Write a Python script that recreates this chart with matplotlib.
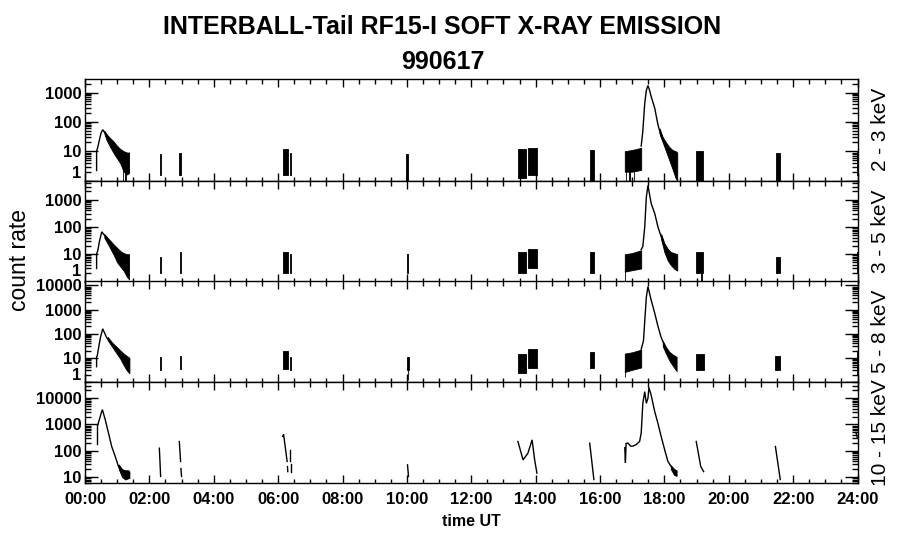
import matplotlib
matplotlib.use("Agg")
import matplotlib.pyplot as plt
import numpy as np
from matplotlib.ticker import FixedLocator, MultipleLocator, NullFormatter, LogLocator

plt.rcParams['font.family'] = ['Liberation Sans', 'DejaVu Sans']

# ---------------- texts / axes ----------------
title_line1 = "INTERBALL-Tail RF15-I SOFT X-RAY EMISSION"
title_line2 = "990617"
y_title = "count rate"
x_title = "time UT"
band_labels = ["2 - 3 keV", "3 - 5 keV", "5 - 8 keV", "10 - 15 keV"]
y_limits = [(1, 2900), (1, 5000), (1, 14500), (5.9, 41600)]
y_major = [[1, 10, 100, 1000], [1, 10, 100, 1000],
           [1, 10, 100, 1000, 10000], [10, 100, 1000, 10000]]
x_major_hours = list(range(0, 25, 2))
x_tick_labels = ["%02d:00" % h for h in x_major_hours]

# ---------------- panel 1 : 2 - 3 keV ----------------
p1_flare1_t = [0.36, 0.36, 0.40, 0.45, 0.50, 0.55, 0.60, 0.67]
p1_flare1_v = [2.2, 10, 14, 25, 42, 54, 45, 37]
p1_noise1_t = [0.60, 0.67, 0.78, 0.88, 0.98, 1.09, 1.20, 1.30, 1.37]
p1_noise1_hi = [50, 38, 28, 22, 16, 12, 10, 9, 9]
p1_noise1_lo = [40, 24, 14, 9, 6, 4, 2.0, 1.6, 1.8]
p1_pre_t = [16.77, 17.00, 17.28]
p1_pre_hi = [10, 11, 13]
p1_pre_lo = [2.0, 2.0, 2.3]
p1_flare2_t = [17.28, 17.33, 17.39, 17.44, 17.49, 17.54, 17.59, 17.70, 17.80, 17.90, 18.01, 18.11]
p1_flare2_v = [15, 48, 437, 1200, 1730, 1200, 733, 296, 80, 32, 17, 10]
p1_noise2_t = [17.85, 17.95, 18.05, 18.15, 18.25, 18.35, 18.40]
p1_noise2_hi = [60, 30, 20, 14, 11, 10, 9]
p1_noise2_lo = [40, 20, 10, 5, 2.5, 1.2, 1.0]
p1_bursts = [(1.17, 1.19, 0.9, 3), (1.24, 1.26, 0.9, 3),
             (2.32, 2.35, 1.5, 8), (2.93, 2.97, 1.5, 9),
             (6.14, 6.30, 1.5, 12), (6.37, 6.39, 1.5, 9),
             (9.98, 10.05, 1.0, 8), (13.45, 13.70, 1.2, 11.5),
             (13.76, 14.04, 1.5, 13), (15.68, 15.80, 1.0, 11),
             (16.80, 16.82, 0.9, 3), (16.90, 16.92, 0.9, 3), (17.05, 17.07, 0.9, 3),
             (18.99, 19.20, 1.0, 10), (21.47, 21.60, 1.0, 9),
             (23.97, 24.00, 1.6, 10)]

# ---------------- panel 2 : 3 - 5 keV ----------------
p2_flare1_t = [0.36, 0.36, 0.40, 0.45, 0.52, 0.60, 0.70]
p2_flare1_v = [3, 10, 14, 30, 66, 50, 38]
p2_noise1_t = [0.60, 0.70, 0.80, 0.90, 1.00, 1.10, 1.20, 1.30, 1.37]
p2_noise1_hi = [55, 40, 30, 22, 17, 13, 11, 10, 10]
p2_noise1_lo = [40, 25, 15, 9, 5, 3.5, 2.5, 1.5, 1.2]
p2_pre_t = [16.77, 17.00, 17.28]
p2_pre_hi = [10, 11, 14]
p2_pre_lo = [2.3, 2.6, 3.0]
p2_flare2_t = [17.28, 17.33, 17.39, 17.44, 17.49, 17.59, 17.70, 17.80, 17.90, 18.01, 18.16, 18.37]
p2_flare2_v = [15, 19, 100, 1250, 3300, 720, 310, 100, 44, 19, 11, 8]
p2_noise2_t = [17.90, 18.00, 18.10, 18.20, 18.30, 18.40]
p2_noise2_hi = [55, 25, 16, 12, 11, 10]
p2_noise2_lo = [35, 12, 6, 4, 3, 2.5]
p2_bursts = [(2.32, 2.35, 2, 8), (2.94, 2.97, 2, 12),
             (6.14, 6.30, 2, 12), (6.37, 6.39, 2, 10),
             (10.00, 10.05, 2, 10), (13.45, 13.70, 2, 12),
             (13.76, 14.03, 3, 16), (15.68, 15.82, 2, 12),
             (16.77, 16.79, 1.0, 3),
             (18.99, 19.20, 2, 12), (19.15, 19.17, 1.0, 4),
             (21.47, 21.60, 2, 8), (23.97, 24.00, 2, 12)]

# ---------------- panel 3 : 5 - 8 keV ----------------
p3_flare1_t = [0.36, 0.36, 0.38, 0.42, 0.48, 0.55, 0.67, 0.83, 0.98, 1.13, 1.35]
p3_flare1_v = [4.3, 11, 12, 25, 70, 160, 70, 37, 23, 15, 9]
p3_noise1_t = [0.70, 0.85, 1.00, 1.10, 1.20, 1.30, 1.38]
p3_noise1_hi = [75, 42, 27, 20, 15, 12, 10]
p3_noise1_lo = [55, 28, 14, 9, 5, 3, 2.3]
p3_pre_t = [16.77, 17.00, 17.28]
p3_pre_hi = [15, 17, 22]
p3_pre_lo = [2.6, 3.2, 4.0]
p3_flare2_t = [17.28, 17.35, 17.40, 17.44, 17.49, 17.59, 17.70, 17.80, 17.90, 18.01, 18.16, 18.37]
p3_flare2_v = [23, 50, 520, 3300, 9000, 2450, 710, 205, 70, 32, 15, 9]
p3_noise2_t = [17.95, 18.05, 18.15, 18.25, 18.38]
p3_noise2_hi = [50, 28, 18, 14, 11]
p3_noise2_lo = [30, 15, 8, 5, 2.8]
p3_bursts = [(2.32, 2.35, 3.1, 11), (2.94, 2.97, 3.5, 12.5),
             (6.14, 6.30, 3.5, 20), (6.37, 6.39, 3, 11),
             (10.00, 10.06, 3, 11), (10.02, 10.03, 1.2, 3),
             (13.45, 13.70, 2.3, 15), (13.76, 14.03, 3.7, 23),
             (15.68, 15.82, 3.7, 18), (16.77, 16.79, 1.6, 4),
             (18.99, 19.22, 3, 15),
             (21.45, 21.60, 3, 12), (23.97, 24.00, 2, 18)]

# ---------------- panel 4 : 10 - 15 keV ----------------
p4_flare1_t = [0.40, 0.45, 0.50, 0.54, 0.63, 0.73, 0.83, 0.94, 1.04, 1.14, 1.25, 1.35]
p4_flare1_v = [1000, 1600, 2600, 3700, 1500, 470, 145, 60, 25, 14, 12, 12]
p4_start_t = [0.37, 0.37]
p4_start_v = [180, 950]
p4_noise1_t = [1.05, 1.15, 1.25, 1.35, 1.38]
p4_noise1_hi = [30, 20, 18, 18, 16]
p4_noise1_lo = [20, 10, 8, 9, 9]
p4_b1_t = [2.31, 2.35]
p4_b1_v = [125, 10.5]
p4_b2_t = [2.93, 2.97]
p4_b2_v = [225, 39]
p4_b3_t = [2.98, 3.00]
p4_b3_v = [21, 10.5]
p4_b4_t = [6.14, 6.17, 6.28]
p4_b4_v = [350, 420, 39]
p4_b5_t = [6.29, 6.30]
p4_b5_v = [25, 16]
p4_b6_t = [6.38, 6.38]
p4_b6_v = [110, 40]
p4_b7_t = [6.39, 6.39]
p4_b7_v = [30, 16]
p4_b8_t = [10.02, 10.05]
p4_b8_v = [29, 10.5]
p4_b9_t = [13.45, 13.61, 13.76, 13.89, 13.97, 14.04]
p4_b9_v = [225, 45, 80, 260, 45, 14]
p4_b10_t = [15.68, 15.81]
p4_b10_v = [195, 8]
p4_flare2_t = [16.77, 16.79, 16.81, 16.87, 16.95, 17.02, 17.12, 17.23, 17.28, 17.33, 17.39, 17.44,
               17.49, 17.52, 17.59, 17.70, 17.80, 17.90, 18.01, 18.11, 18.21, 18.37]
p4_flare2_v = [130, 35, 190, 195, 150, 150, 170, 225, 470, 6400, 17800, 6400,
               10000, 26000, 13000, 3100, 1100, 350, 108, 39, 25, 16]
p4_noise2_t = [18.20, 18.30, 18.38]
p4_noise2_hi = [28, 20, 18]
p4_noise2_lo = [20, 12, 11]
p4_b11_t = [18.99, 19.13, 19.22]
p4_b11_v = [225, 25, 16]
p4_b12_t = [21.45, 21.60]
p4_b12_v = [145, 8]
p4_b13_t = [23.95, 24.00]
p4_b13_v = [500, 300]

# ---------------- figure ----------------
W, H = 900, 548
fig = plt.figure(figsize=(W / 100, H / 100), dpi=100)
edges = [79, 180.5, 281.5, 382, 483]
x_left, x_right = 85, 857.5
one_offsets = [7, 10, 6, None]  # pixel shift of the bottom "1" label
tick_fs = 12

axes = []
for i in range(4):
    b = 1 - edges[i + 1] / H
    h = (edges[i + 1] - edges[i]) / H
    ax = fig.add_axes([x_left / W, b, (x_right - x_left) / W, h])
    axes.append(ax)


def line(ax, t, v):
    ax.plot(t, v, color='k', lw=1.0, solid_joinstyle='miter')


def band(ax, t, lo, hi):
    ax.fill_between(t, lo, hi, facecolor='k', edgecolor='k', lw=0.6)


def bursts(ax, items):
    for t0, t1, lo, hi in items:
        ax.fill_between([t0, t1], [lo, lo], [hi, hi], facecolor='k', edgecolor='k', lw=0.6)


a1, a2, a3, a4 = axes
line(a1, p1_flare1_t, p1_flare1_v); band(a1, p1_noise1_t, p1_noise1_lo, p1_noise1_hi)
band(a1, p1_pre_t, p1_pre_lo, p1_pre_hi)
line(a1, p1_flare2_t, p1_flare2_v); band(a1, p1_noise2_t, p1_noise2_lo, p1_noise2_hi)
bursts(a1, p1_bursts)

line(a2, p2_flare1_t, p2_flare1_v); band(a2, p2_noise1_t, p2_noise1_lo, p2_noise1_hi)
band(a2, p2_pre_t, p2_pre_lo, p2_pre_hi)
line(a2, p2_flare2_t, p2_flare2_v); band(a2, p2_noise2_t, p2_noise2_lo, p2_noise2_hi)
bursts(a2, p2_bursts)

line(a3, p3_flare1_t, p3_flare1_v); band(a3, p3_noise1_t, p3_noise1_lo, p3_noise1_hi)
band(a3, p3_pre_t, p3_pre_lo, p3_pre_hi)
line(a3, p3_flare2_t, p3_flare2_v); band(a3, p3_noise2_t, p3_noise2_lo, p3_noise2_hi)
bursts(a3, p3_bursts)

line(a4, p4_start_t, p4_start_v)
line(a4, p4_flare1_t, p4_flare1_v); band(a4, p4_noise1_t, p4_noise1_lo, p4_noise1_hi)
for tt, vv in [(p4_b1_t, p4_b1_v), (p4_b2_t, p4_b2_v), (p4_b3_t, p4_b3_v), (p4_b4_t, p4_b4_v),
               (p4_b5_t, p4_b5_v), (p4_b6_t, p4_b6_v), (p4_b7_t, p4_b7_v), (p4_b8_t, p4_b8_v),
               (p4_b9_t, p4_b9_v), (p4_b10_t, p4_b10_v), (p4_b11_t, p4_b11_v),
               (p4_b12_t, p4_b12_v), (p4_b13_t, p4_b13_v)]:
    line(a4, tt, vv)
line(a4, p4_flare2_t, p4_flare2_v); band(a4, p4_noise2_t, p4_noise2_lo, p4_noise2_hi)

px = 72 / 100  # points per pixel
for i, ax in enumerate(axes):
    ax.set_yscale('log')
    ax.set_ylim(*y_limits[i])
    ax.set_xlim(0, 24)
    ax.yaxis.set_major_locator(FixedLocator(y_major[i]))
    ax.yaxis.set_minor_locator(LogLocator(base=10, subs=np.arange(2, 10), numticks=30))
    ax.yaxis.set_minor_formatter(NullFormatter())
    labels = []
    for v in y_major[i]:
        labels.append('' if (v == 1 and one_offsets[i] is not None) else str(v))
    ax.set_yticklabels(labels)
    if one_offsets[i] is not None:
        ax.annotate('1', xy=(0, 1), xycoords=ax.get_yaxis_transform(),
                    xytext=(-3.5 * px, one_offsets[i] * px), textcoords='offset points',
                    ha='right', va='center', fontsize=tick_fs, fontweight='bold')
    ax.xaxis.set_major_locator(FixedLocator(x_major_hours))
    ax.xaxis.set_minor_locator(MultipleLocator(0.5))
    ax.tick_params(axis='both', which='both', direction='in', top=True, right=True,
                   width=1.0, labelsize=tick_fs)
    ax.tick_params(axis='x', which='major', length=8 * px, pad=9 * px)
    ax.tick_params(axis='x', which='minor', length=4.5 * px)
    ax.tick_params(axis='y', which='major', length=13 * px, pad=3.5 * px)
    ax.tick_params(axis='y', which='minor', length=6 * px)
    for lab in ax.get_yticklabels():
        lab.set_fontweight('bold')
    if i < 3:
        ax.set_xticklabels([])
    else:
        ax.set_xticklabels(x_tick_labels, fontweight='bold')
    for s in ax.spines.values():
        s.set_linewidth(1.0)
    yc = 1 - (edges[i] + edges[i + 1]) / 2 / H
    fig.text(880 / W, yc, band_labels[i], rotation=90, ha='center', va='center', fontsize=15)

fig.text(442 / W, 1 - 27 / H, title_line1, ha='center', va='center', fontsize=18, fontweight='bold')
fig.text(443 / W, 1 - 62 / H, title_line2, ha='center', va='center', fontsize=18, fontweight='bold')
fig.text(20 / W, 1 - 260 / H, y_title, rotation=90, ha='center', va='center', fontsize=16.5)
fig.text(471 / W, 1 - 522 / H, x_title, ha='center', va='center', fontsize=11.5, fontweight='bold')

fig.savefig('out.png', dpi=100)
